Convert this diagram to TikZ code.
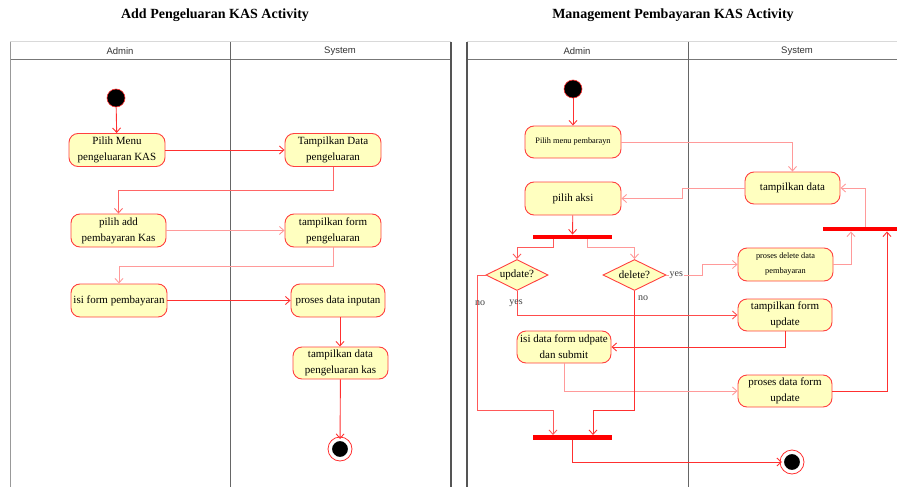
\documentclass[tikz,border=0pt]{standalone}
\usepackage{fontspec}
\setmainfont{Liberation Serif}
\newfontfamily\lanefont{Liberation Sans}
\usetikzlibrary{arrows.meta,shapes.geometric,calc}
\definecolor{actfill}{HTML}{FFFFC0}
\definecolor{actline}{HTML}{FF4040}
\definecolor{strongred}{HTML}{FF3030}
\definecolor{lightred}{HTML}{FF9A9A}
\definecolor{laneline}{HTML}{555555}
\tikzset{
  act/.style={draw=actline, fill=actfill, rounded corners=9pt, line width=0.9pt,
    minimum width=95pt, minimum height=33pt, align=center, inner sep=1pt,
    font=\fontsize{11}{16}\selectfont},
  actsmall/.style={act, font=\fontsize{8.3}{15}\selectfont},
  dec/.style={diamond, draw=actline, fill=actfill, line width=0.9pt, aspect=2,
    minimum width=62pt, minimum height=31pt, inner sep=0pt,
    font=\fontsize{11}{12}\selectfont},
  startdot/.style={circle, fill=black, draw=strongred, line width=0.6pt, minimum size=18pt, inner sep=0pt},
  enddot/.style={circle, fill=black, draw=white, line width=2pt, minimum size=18pt, inner sep=0pt,
    append after command={\pgfextra{\draw[strongred, line width=0.8pt] (\tikzlastnode) circle (12pt);}}},
  bar/.style={fill=red, draw=none, minimum height=4.5pt, inner sep=0pt},
  conn/.style={draw=strongred, line width=0.9pt, -{Straight Barb[length=4.5pt,width=8pt]}},
  connl/.style={conn, draw=lightred},
  guard/.style={font=\fontsize{10}{12}\selectfont, text=black!75, inner sep=1pt},
  title/.style={font=\fontsize{14}{16}\selectfont\bfseries},
  lanehead/.style={font=\lanefont\fontsize{9.5}{11}\selectfont, text=black!80}
}
\begin{document}
\begin{tikzpicture}[x=1pt,y=-1pt]
\useasboundingbox (0,0) rectangle (897,487);
% ---------- titles ----------
\node[title] (t1) at (215,15) {Add Pengeluaran KAS Activity};
\node[title] (t2) at (673,15) {Management Pembayaran KAS Activity};
% ---------- left swimlanes ----------
\draw[black!15, line width=1pt] (10,42) -- (451,42);
\draw[laneline!80, line width=1pt] (10,59.5) -- (451,59.5);
\draw[black!40, line width=1pt] (10,42) -- (10,487);
\draw[laneline, line width=1.2pt] (451,42) -- (451,487);
\draw[black!60, line width=0.7pt] (230,42) -- (230,487);
\node[lanehead] (la1) at (120,51) {Admin};
\node[lanehead] (la2) at (340,51) {System};
% ---------- right swimlanes ----------
\draw[black!15, line width=1pt] (467,42) -- (897,42);
\draw[laneline!80, line width=1pt] (467,59.5) -- (897,59.5);
\draw[laneline, line width=1.2pt] (467,42) -- (467,487);
\draw[black!60, line width=0.7pt] (688,42) -- (688,487);
\node[lanehead] (ra1) at (577,51) {Admin};
\node[lanehead] (ra2) at (797,51) {System};
% ---------- left diagram nodes ----------
\node[startdot] (s1) at (116,98) {};
\node[act, minimum width=96pt] (n1) at (117,150) {Pilih Menu\\pengeluaran KAS};
\node[act, minimum width=96pt] (n2) at (333,150) {Tampilkan Data\\pengeluaran};
\node[act] (n3) at (118.5,230.5) {pilih add\\pembayaran Kas};
\node[act, minimum width=96pt] (n4) at (333,230.5) {tampilkan form\\pengeluaran};
\node[act, minimum width=96pt] (n5) at (119,300.5) {isi form pembayaran};
\node[act, minimum width=94pt] (n6) at (338,300.5) {proses data inputan};
\node[act, minimum height=32pt] (n7) at (340.5,363) {tampilkan data\\pengeluaran kas};
\node[enddot] (e1) at (340,449) {};
% ---------- left diagram connectors ----------
\draw[conn] (s1) -- (n1);
\draw[conn] (n1) -- (n2);
\draw[conn, draw=red!60] (n2) -- (n2.south |- 0,190) -| (n3);
\draw[connl] (n3) -- (n4);
\draw[connl] (n4) -- (n4.south |- 0,266) -| (n5);
\draw[conn] (n5) -- (n6);
\draw[conn] (n6.south -| 340,0) -- (n7.north -| 340,0);
\draw[conn] (n7) -- (e1);
% ---------- right diagram nodes ----------
\node[startdot] (s2) at (573,89) {};
\node[actsmall, minimum width=96pt, minimum height=32pt] (m1) at (573,142) {Pilih menu pembarayn};
\node[act, minimum height=32pt] (m2) at (792.5,188) {tampilkan data};
\node[act, minimum width=96pt] (m3) at (573,198.5) {pilih aksi};
\node[bar, minimum width=79pt] (f1) at (572.5,237) {};
\node[dec] (d1) at (517,275) {update?};
\node[dec, minimum width=63pt] (d2) at (634.5,275) {delete?};
\node[actsmall, minimum width=95pt] (m4) at (785.5,264.5) {proses delete data\\pembayaran};
\node[bar, minimum width=80pt] (j1) at (863,229) {};
\node[act, minimum width=94pt, minimum height=32pt] (m5) at (785,315) {tampilkan form\\update};
\node[act, minimum width=94pt, minimum height=32pt] (m6) at (564,347) {isi data form udpate\\dan submit};
\node[act, minimum width=94pt, minimum height=32pt] (m7) at (785,391) {proses data form\\update};
\node[bar, minimum width=79pt] (j2) at (572.5,437.5) {};
\node[enddot] (e2) at (792,462) {};
% ---------- right diagram connectors ----------
\draw[conn] (s2) -- (m1);
\draw[connl] (m1) -| (m2);
\draw[connl] (m2.west) -- ++(-62,0) |- (m3.east);
\draw[conn] (m3) -- (f1);
\draw[conn, draw=red!65] ([xshift=-19.5pt]f1.south) -- ++(0,8) -| (d1.north);
\draw[connl] ([xshift=14.5pt]f1.south) -- ++(0,8) -| (d2.north);
\draw[connl] (d2.east) -- ++(36,0) |- (m4.west);
\draw[connl] (m4.east) -| ([xshift=-12pt]j1.south);
\draw[connl] ([xshift=2pt]j1.north) |- (m2.east);
\draw[conn] (m7.east) -| ([xshift=24pt]j1.south);
\draw[conn, draw=red!65] (d1.west) -- ++(-8,0) -- ++(0,135) -| ([xshift=-19.5pt]j2.north);
\draw[conn, draw=red!70] (d1.south) |- (m5.west);
\draw[conn] (m5.south) |- (m6.east);
\draw[connl] (m6.south) |- (m7.west);
\draw[conn] (d2.south) -- ++(0,119) -| ([xshift=20.5pt]j2.north);
\draw[conn] (j2.south) |- (e2.west);
% ---------- guards ----------
\node[guard, fill=white, anchor=west] (g1) at ([xshift=2pt]d2.east) {yes};
\node[guard] (g2) at (643,298) {no};
\node[guard] (g3) at (480,303) {no};
\node[guard] (g4) at (516,303) {yes};
\end{tikzpicture}
\end{document}
